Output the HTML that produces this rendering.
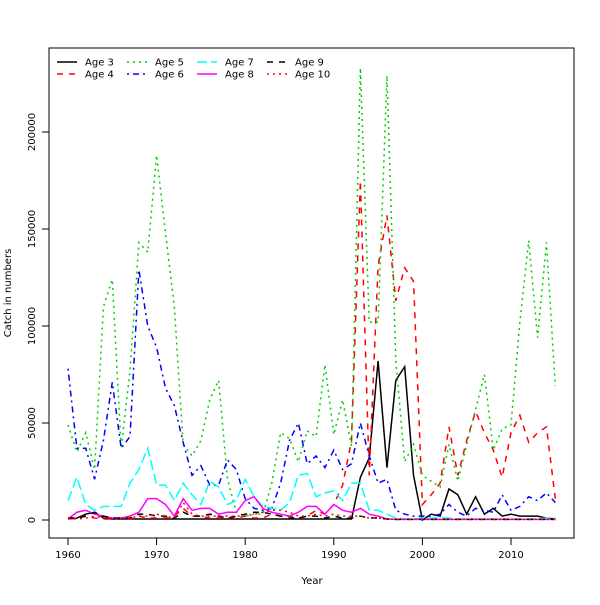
<!DOCTYPE html>
<html><head><meta charset="utf-8"><style>
body{margin:0;background:#fff}
svg text{font-family:"DejaVu Sans","Liberation Sans",sans-serif;font-size:10px;fill:#000}
</style></head><body>
<svg id="chart" width="600" height="600" xmlns="http://www.w3.org/2000/svg">
<rect x="0" y="0" width="600" height="600" fill="#fff"/>
<g id="plot"></g>
</svg>
<script>
const years = [];
for (let y = 1960; y <= 2015; y++) years.push(y);
// values in thousands
const age3 = [0.5,1,3,4,1,0.5,0.5,0.5,0.5,0.5,0.5,0.5,0.5,0.5,0.5,0.5,0.5,0.5,0.5,0.5,0.5,0.5,0.5,0.5,0.5,0.5,0.5,0.5,0.5,0.5,0.5,0.5,0.5,22,32,82,27,72,79,23,0,3,2,16,13,3,12,3,6,2,3,2,2,2,1,0.5];
const age4 = [0.5,1,2,1,0.5,0.5,1,0.5,2,1,1,1,2,6,2,2,1,1,1,1,2,1,1,3,2,2,1,2,5,3,8,18,41,175,23,131,157,113,130,123,8,13,19,48,23,41,56,45,36,22,45,54,40,45,48,11];
const age5 = [49,35,45,26,110,124,37,77,143,138,188,148,110,39,33,41,62,72,21,4,2,3,3,19,45,42,30,46,43,80,44,62,38,233,102,102,229,82,30,39,23,20,17,39,20,39,57,75,36,47,49,102,144,94,143,69];
const age6 = [78,37,37,21,41,71,37,43,129,100,89,68,59,40,23,28,18,18,31,26,11,6,5,6,19,41,50,29,33,27,36,26,29,50,33,19,21,5,3,2,2,2,3,8,4,2,6,5,4,13,5,7,12,10,14,9];
const age7 = [10,22,8,5,7,7,7,19,26,37,18,18,10,19,13,8,20,17,8,10,21,12,7,6,5,9,23,24,12,14,15,10,19,19,5,5,3,1,0.5,0.5,1,1,1,1,0.5,0.5,0.5,0.5,0.5,0.5,0.5,0.5,0.5,0.5,1,1];
const age8 = [0.5,4,5,3,2,1,1,2,4,11,11,8,2,11,5,6,6,3,4,4,10,12,6,4,3,2,4,7,7,3,8,5,4,6,3,2,0.5,0.3,0.3,0.3,0.3,0.3,0.3,0.3,0.3,0.3,0.3,0.3,0.3,0.3,0.3,0.3,0.3,0.3,0.3,0.3];
const age9 = [1,1,2,4,2,1,1,1,3,3,2,2,1,4,2,2,3,2,1,2,3,4,4,3,2,1,1,2,2,1,2,1,1,2,1,1,0.5,0.3,0.3,0.3,0.3,0.3,0.3,0.3,0.3,0.3,0.3,0.3,0.3,0.3,0.3,0.3,0.3,0.3,0.3,0.3];
const age10 = [1,0.5,1,2,1,1,1,1,2,2,3,2,1,9,3,2,2,2,2,2,2,3,4,5,5,4,2,2,3,2,3,2,2,2,1,1,0.5,0.3,0.3,0.3,0.3,0.3,0.3,0.3,0.3,0.3,0.3,0.3,0.3,0.3,0.3,0.3,0.3,0.3,0.3,0.3];
const xTicks = [1960,1970,1980,1990,2000,2010];
const yTicks = [0,50,100,150,200];
const yTickLabels = ["0","50000","100000","150000","200000"];

const NS = "http://www.w3.org/2000/svg";
const g = document.getElementById('plot');
const X = y => 68 + (y - 1960) * 8.86;
const Y = v => 520 - v * 1.94;
function el(tag, attrs, parent){const e=document.createElementNS(NS,tag);for(const k in attrs)e.setAttribute(k,attrs[k]);(parent||g).appendChild(e);return e;}

const frame = el('rect',{x:49,y:48,width:525,height:490,fill:'none',stroke:'#000','stroke-width':1});



xTicks.forEach(t=>{
  const l = el('line',{x1:X(t),x2:X(t),y1:538,y2:545,stroke:'#000'});
  
  
  const tx = el('text',{x:X(t),y:558,'text-anchor':'middle'});
  tx.textContent = t;
  
  
});
yTicks.forEach((t,i)=>{
  const l = el('line',{x1:42,x2:49,y1:Y(t),y2:Y(t),stroke:'#000'});
  
  
  const tx = el('text',{x:35,y:Y(t),'text-anchor':'middle',transform:`rotate(-90 35 ${Y(t)})`});
  tx.textContent = yTickLabels[i];
  
  
});
const xt = el('text',{x:312,y:584,'text-anchor':'middle'}); xt.textContent='Year';


const yt = el('text',{x:11,y:293,'text-anchor':'middle',transform:'rotate(-90 11 293)'}); yt.textContent='Catch in numbers';



const series = [
  {name:'Age 3',data:age3,color:'#000000',dash:''},
  {name:'Age 4',data:age4,color:'#ff0000',dash:'6 6'},
  {name:'Age 5',data:age5,color:'#00cd00',dash:'2 4'},
  {name:'Age 6',data:age6,color:'#0000ff',dash:'2 4 6 4'},
  {name:'Age 7',data:age7,color:'#00ffff',dash:'10 4'},
  {name:'Age 8',data:age8,color:'#ff00ff',dash:''},
  {name:'Age 9',data:age9,color:'#000000',dash:'6 6'},
  {name:'Age 10',data:age10,color:'#ff0000',dash:'2 4'}
];
series.forEach(s=>{
  const p = el('polyline',{points:s.data.map((v,i)=>X(years[i])+','+Y(v)).join(' '),fill:'none',stroke:s.color,'stroke-width':1.5,'stroke-dasharray':s.dash});
  
  
});
// legend
const colX = [57,127,197,267];
series.forEach((s,i)=>{
  const c = Math.floor(i/2), r = i%2;
  const lx = colX[c], ly = 62 + r*12;
  const l = el('line',{x1:lx,x2:lx+20,y1:ly,y2:ly,stroke:s.color,'stroke-width':1.5,'stroke-dasharray':s.dash});
  
  
  const t = el('text',{x:lx+28,y:ly+3.5}); t.textContent = s.name;
  
  
});
</script>
</body></html>
